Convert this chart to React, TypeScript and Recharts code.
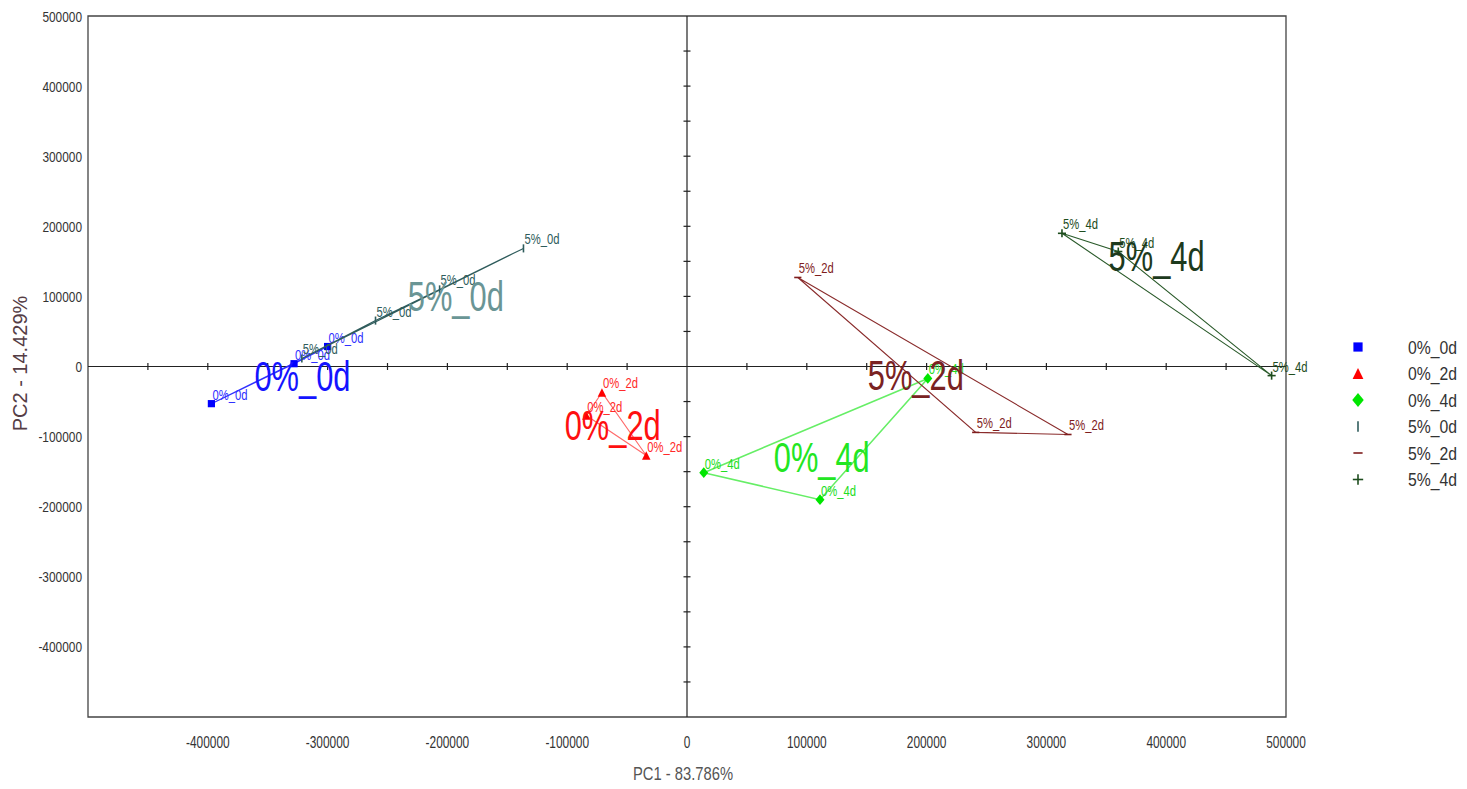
import React from 'react';
import { ScatterChart, Scatter, XAxis, YAxis, ReferenceLine, ReferenceArea, Legend } from 'recharts';

const FONT_N = "'Liberation Sans Narrow','Arial Narrow','Liberation Sans',Arial,sans-serif";
const FONT = "'Liberation Sans',Arial,sans-serif";

// ---- data ----
const groupNames = ['0%_0d', '0%_2d', '0%_4d', '5%_0d', '5%_2d', '5%_4d'];

const pts00 = [
  { x: -397000, y: -53000 },
  { x: -328000, y: 4000 },
  { x: -300000, y: 28500 },
];
const pts02 = [
  { x: -71000, y: -37000 },
  { x: -34000, y: -127000 },
  { x: -84000, y: -70000 },
];
const pts04 = [
  { x: 14000, y: -151500 },
  { x: 111000, y: -190000 },
  { x: 201000, y: -17000 },
];
const pts50 = [
  { x: -136500, y: 168500 },
  { x: -206500, y: 110000 },
  { x: -260000, y: 65500 },
  { x: -321500, y: 11500 },
];
const pts52 = [
  { x: 92500, y: 127000 },
  { x: 241000, y: -94000 },
  { x: 318000, y: -97000 },
];
const pts54 = [
  { x: 313000, y: 190000 },
  { x: 360000, y: 164000 },
  { x: 488000, y: -13000 },
];
const groupPoints = [pts00, pts02, pts04, pts50, pts52, pts54];

// group centre labels
const centreX = [-321000, -62000, 112500, -193000, 191000, 392000];
const centreY = [-13000, -84000, -128500, 101000, -11500, 157000];

const xTicks = [-400000, -300000, -200000, -100000, 0, 100000, 200000, 300000, 400000, 500000];
const yTicks = [-400000, -300000, -200000, -100000, 0, 100000, 200000, 300000, 400000, 500000];
const axisMarks = [
  -450000, -400000, -350000, -300000, -250000, -200000, -150000, -100000, -50000,
  50000, 100000, 150000, 200000, 250000, 300000, 350000, 400000, 450000,
];

// ---- styles ----
const markerKinds = ['square', 'triangle', 'diamond', 'vbar', 'hbar', 'plus'];
const markerColors = ['#0000ff', '#ff0000', '#00e600', '#2f5c5c', '#7f1d1d', '#1e4d1e'];
const lineColors = ['#3030ff', '#ff6a6a', '#66ee66', '#2f5c5c', '#8a2c2c', '#2a5a2a'];
const textColors = ['#3030ff', '#ff2a2a', '#22dd22', '#2f5c5c', '#7f1d1d', '#1e4d1e'];
const bigColors = ['#1414ff', '#ff1010', '#22e622', '#6a9595', '#7a2222', '#1d3a1d'];

function Marker({ kind, cx, cy, color, s = 1 }: any) {
  if (kind === 'square') {
    const h = 4 * s;
    return <rect x={cx - h} y={cy - h} width={2 * h} height={2 * h} fill={color} />;
  }
  if (kind === 'triangle') {
    const h = 4.7 * s;
    return <polygon points={`${cx},${cy - h} ${cx + h},${cy + h} ${cx - h},${cy + h}`} fill={color} />;
  }
  if (kind === 'diamond') {
    const w = 5 * s;
    const h = 6 * s;
    return <polygon points={`${cx},${cy - h} ${cx + w},${cy} ${cx},${cy + h} ${cx - w},${cy}`} fill={color} />;
  }
  if (kind === 'vbar') {
    const h = 4.5 * s;
    return <line x1={cx} x2={cx} y1={cy - h} y2={cy + h} stroke={color} strokeWidth={1.6} />;
  }
  if (kind === 'hbar') {
    const w = 4 * s;
    return <line x1={cx - w} x2={cx + w} y1={cy} y2={cy} stroke={color} strokeWidth={1.6} />;
  }
  const h = 4.5 * s;
  return (
    <g stroke={color} strokeWidth={1.6}>
      <line x1={cx - h} x2={cx + h} y1={cy} y2={cy} />
      <line x1={cx} x2={cx} y1={cy - h} y2={cy + h} />
    </g>
  );
}

const numW = (s: string) => s.split('').reduce((a, c) => a + (c === '-' ? 4 : 6.6), 0);

const XTick = (p: any) => {
  const s = String(p.payload.value);
  return (
    <text x={p.x} y={p.y} dy={23} textAnchor="middle" fontFamily={FONT_N} fontSize={17} fill="#333"
      textLength={numW(s)} lengthAdjust="spacingAndGlyphs">{s}</text>
  );
};
const YTick = (p: any) => {
  const s = String(p.payload.value);
  return (
    <text x={p.x + 2} y={p.y} dy={5.5} textAnchor="end" fontFamily={FONT_N} fontSize={15} fill="#333"
      textLength={numW(s)} lengthAdjust="spacingAndGlyphs">{s}</text>
  );
};

const XTitle = (p: any) => {
  const vb = p.viewBox || { x: 88, y: 717, width: 1198, height: 72 };
  return (
    <text x={vb.x + vb.width / 2 - 4} y={vb.y + vb.height - 9} textAnchor="middle" fontFamily={FONT} fontSize={19}
      fill="#555" textLength={100} lengthAdjust="spacingAndGlyphs">PC1 - 83.786%</text>
  );
};

const makeShape = (gi: number) => (props: any) => {
  const { cx, cy, payload } = props;
  if (payload && payload.closing) return <g />;
  return (
    <g>
      <Marker kind={markerKinds[gi]} cx={cx} cy={cy} color={markerColors[gi]} s={0.9} />
      <text x={cx + 1} y={cy - 4} fontFamily={FONT_N} fontSize={15} fill={textColors[gi]}
        textLength={35} lengthAdjust="spacingAndGlyphs">{groupNames[gi]}</text>
    </g>
  );
};

const bigShape = (props: any) => {
  const { cx, cy, payload } = props;
  const gi = payload.gi;
  return (
    <text x={cx} y={cy + 15} textAnchor="middle" fontFamily={FONT} fontSize={43} fill={bigColors[gi]}
      textLength={96} lengthAdjust="spacingAndGlyphs">{groupNames[gi]}</text>
  );
};

const hTickShape = (props: any) => (
  <line x1={props.cx} x2={props.cx} y1={props.cy - 3.5} y2={props.cy + 3.5} stroke="#222" strokeWidth={1.2} />
);
const vTickShape = (props: any) => (
  <line x1={props.cx - 3.5} x2={props.cx + 3.5} y1={props.cy} y2={props.cy} stroke="#222" strokeWidth={1.2} />
);

const renderLegend = (props: any) => {
  const items = (props.payload || []).filter((e: any) => groupNames.includes(e.value));
  return (
    <svg width={127} height={170}>
      {items.map((e: any, i: number) => {
        const gi = groupNames.indexOf(e.value);
        const cy = 13 + i * 26.5;
        return (
          <g key={e.value}>
            <Marker kind={markerKinds[gi]} cx={18} cy={cy} color={markerColors[gi]} s={1.15} />
            <text x={68} y={cy + 6.5} fontFamily={FONT_N} fontSize={19} fill="#333"
              textLength={49} lengthAdjust="spacingAndGlyphs">{e.value}</text>
          </g>
        );
      })}
    </svg>
  );
};

export default function App() {
  const bigData = centreX.map((x, i) => ({ x, y: centreY[i], gi: i }));
  const hMarks = axisMarks.map((v) => ({ x: v, y: 0 }));
  const vMarks = axisMarks.map((v) => ({ x: 0, y: v }));
  return (
    <div style={{ position: 'absolute', left: 0, top: 0, width: 1467, height: 789, background: '#fff' }}>
      <ScatterChart width={1467} height={789} margin={{ top: 16, right: 181, bottom: 0, left: 0 }}>
        <XAxis
          type="number"
          dataKey="x"
          domain={[-500000, 500000]}
          ticks={xTicks}
          interval={0}
          axisLine={false}
          tickLine={false}
          tickSize={6}
          tickMargin={2}
          height={72}
          tick={<XTick />}
          label={{ content: XTitle, position: 'insideBottom' }}
        />
        <YAxis
          type="number"
          dataKey="y"
          domain={[-500000, 500000]}
          ticks={yTicks}
          interval={0}
          axisLine={false}
          tickLine={false}
          tickSize={6}
          tickMargin={2}
          width={88}
          tick={<YTick />}
          label={{ value: 'PC2 - 14.429%', angle: -90, position: 'insideLeft', offset: 20, dy: -3, fill: '#553d45', fontSize: 20, fontFamily: FONT, style: { textAnchor: 'middle' } }}
        />
        <ReferenceArea x1={-500000} x2={500000} y1={-500000} y2={500000} fill="none" stroke="#444" strokeWidth={1.3} />
        <ReferenceLine x={0} stroke="#222" strokeWidth={1.2} />
        <ReferenceLine y={0} stroke="#222" strokeWidth={1.2} />
        <Scatter name="hmarks" data={hMarks} shape={hTickShape} legendType="none" isAnimationActive={false} />
        <Scatter name="vmarks" data={vMarks} shape={vTickShape} legendType="none" isAnimationActive={false} />
        {groupPoints.map((pts, gi) => (
          <Scatter
            key={groupNames[gi]}
            name={groupNames[gi]}
            data={[...pts.map((p) => ({ ...p })), { ...pts[0], closing: true }]}
            line={{ stroke: lineColors[gi], strokeWidth: gi === 2 ? 1.6 : 1.1 }}
            lineType="joint"
            fill={markerColors[gi]}
            shape={makeShape(gi)}
            isAnimationActive={false}
          />
        ))}
        <Scatter name="centres" data={bigData} shape={bigShape} legendType="none" isAnimationActive={false} />
        <Legend
          layout="vertical"
          align="center"
          verticalAlign="middle"
          content={renderLegend}
          wrapperStyle={{ position: 'absolute', left: 1340, top: 334, width: 127, height: 170 }}
        />
      </ScatterChart>
    </div>
  );
}
